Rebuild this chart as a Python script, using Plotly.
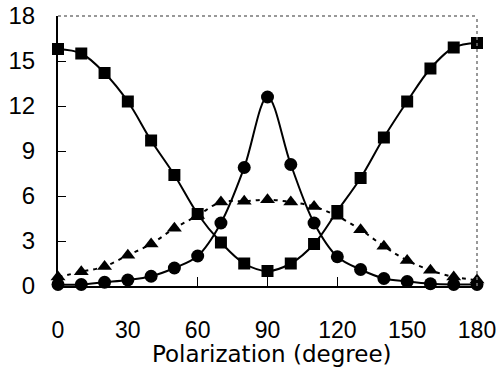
import plotly.graph_objects as go

angles = [0, 10, 20, 30, 40, 50, 60, 70, 80, 90, 100, 110, 120, 130, 140, 150, 160, 170, 180]
squares = [15.8, 15.5, 14.2, 12.3, 9.7, 7.4, 4.8, 2.9, 1.5, 1.0, 1.5, 2.8, 5.0, 7.2, 9.9, 12.3, 14.5, 15.9, 16.2]
circles = [0.1, 0.1, 0.25, 0.4, 0.65, 1.2, 2.0, 4.2, 7.9, 12.6, 8.1, 4.2, 1.95, 1.1, 0.5, 0.3, 0.15, 0.1, 0.1]
triangles = [0.6, 0.95, 1.3, 2.05, 2.8, 3.85, 4.7, 5.6, 5.65, 5.75, 5.6, 5.3, 4.65, 3.75, 2.65, 1.7, 1.05, 0.6, 0.4]

x_ticks = [0, 30, 60, 90, 120, 150, 180]
y_ticks = [0, 3, 6, 9, 12, 15, 18]
x_title = "Polarization (degree)"

FONT = "Liberation Sans"
TITLE_FONT = "DejaVu Sans"

fig = go.Figure()
fig.add_trace(go.Scatter(x=angles, y=triangles, mode="lines+markers",
                         line=dict(color="black", width=2, dash="4px,5px", shape="spline"),
                         marker=dict(symbol="triangle-up", size=13, color="black"),
                         cliponaxis=False))
fig.add_trace(go.Scatter(x=angles, y=circles, mode="lines+markers",
                         line=dict(color="black", width=2, shape="spline"),
                         marker=dict(symbol="circle", size=13, color="black"),
                         cliponaxis=False))
fig.add_trace(go.Scatter(x=angles, y=squares, mode="lines+markers",
                         line=dict(color="black", width=2, shape="spline"),
                         marker=dict(symbol="square", size=12, color="black"),
                         cliponaxis=False))

# dotted frame at top and right
fig.add_shape(type="line", xref="paper", yref="paper", x0=0, x1=1, y0=1, y1=1,
              line=dict(color="#777", width=1.5, dash="dot"))
fig.add_shape(type="line", xref="paper", yref="paper", x0=1, x1=1, y0=0, y1=1,
              line=dict(color="#777", width=1.5, dash="dot"))

# x-axis title placed as annotation below the spaced-out tick labels
fig.add_annotation(text=x_title, xref="paper", yref="paper", x=0.511, y=-0.25,
                   xanchor="center", yanchor="middle", showarrow=False,
                   font=dict(size=23, family=TITLE_FONT, color="black"))

fig.update_layout(
    width=497, height=368,
    margin=dict(l=58, r=20, t=16, b=82, autoexpand=False),
    paper_bgcolor="white", plot_bgcolor="white",
    showlegend=False,
    font=dict(family=FONT, color="black"),
    xaxis=dict(range=[0, 180], tickvals=x_ticks, ticks="inside", ticklen=9,
               tickwidth=1, tickcolor="black", showline=True, linecolor="black",
               linewidth=2, showgrid=False, zeroline=False, automargin=False,
               tickfont=dict(size=23, family=FONT), ticklabelstandoff=22,
               ticklabeloverflow="allow"),
    yaxis=dict(range=[0, 18], tickvals=y_ticks, ticks="inside", ticklen=8,
               tickwidth=1, tickcolor="black", showline=True, linecolor="black",
               linewidth=2, showgrid=False, zeroline=False, automargin=False,
               tickfont=dict(size=24, family=FONT), ticklabelstandoff=16,
               ticklabeloverflow="allow"),
)

fig.write_html("out.html", config={"displayModeBar": False},
               post_script="document.body.style.margin='0';")
